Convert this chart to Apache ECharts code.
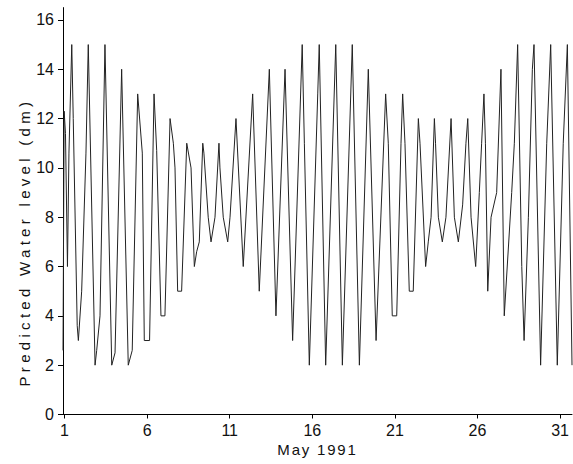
<!DOCTYPE html>
<html>
<head>
<meta charset="utf-8">
<script src="https://cdn.jsdelivr.net/npm/echarts@6/dist/echarts.min.js"></script>
<style>
  html, body { margin: 0; padding: 0; background: #fff; }
  #chart { width: 573px; height: 464px; }
</style>
</head>
<body>
<div id="chart"></div>
<script>
const days = [
  0.91, 0.98, 1.06, 1.18, 1.27, 1.44, 1.53, 1.77, 1.84, 2.04,
  2.30, 2.44, 2.85, 2.95, 3.15, 3.45, 3.86, 4.06, 4.46, 4.86,
  5.10, 5.43, 5.71, 5.83, 6.15, 6.42, 6.58, 6.84, 7.08, 7.39,
  7.59, 7.69, 7.85, 8.09, 8.40, 8.66, 8.86, 9.00, 9.16, 9.37,
  9.44, 9.70, 9.87, 10.11, 10.35, 10.41, 10.61, 10.88, 11.02, 11.38,
  11.82, 12.39, 12.79, 13.40, 13.80, 14.35, 14.81, 15.39, 15.52, 15.82,
  16.33, 16.42, 16.81, 17.42, 17.82, 18.42, 18.85, 19.39, 19.86, 20.44,
  20.60, 20.84, 21.11, 21.37, 21.47, 21.61, 21.87, 22.11, 22.42, 22.52,
  22.86, 23.02, 23.19, 23.39, 23.46, 23.63, 23.87, 24.09, 24.40, 24.60,
  24.84, 25.10, 25.30, 25.41, 25.61, 25.89, 26.11, 26.25, 26.39, 26.48,
  26.62, 26.82, 27.16, 27.42, 27.62, 28.07, 28.23, 28.43, 28.68, 28.82,
  29.08, 29.32, 29.42, 29.82, 30.19, 30.43, 30.83, 31.19, 31.44, 31.72
]
const level = [
  2.6, 12.3, 11.4, 6, 10.6, 15, 12, 3.6, 3, 5,
  10.6, 15, 2, 2.6, 4, 15, 2, 2.5, 14, 2,
  2.6, 13, 10.6, 3, 3, 13, 10.7, 4, 4, 12,
  11, 10, 5, 5, 11, 10, 6, 6.6, 7, 11,
  10.6, 8, 7, 8, 11, 10, 8, 7, 8, 12,
  6, 13, 5, 14, 4, 14, 3, 15, 11, 2,
  13, 15, 2, 15, 2, 15, 2, 14, 3, 13,
  11, 4, 4, 11, 13, 11, 5, 5, 12, 11,
  6, 7, 8, 12, 11, 8, 7, 8, 12, 8,
  7, 8.5, 11, 12, 8, 6, 9, 11, 13, 11,
  5, 8, 9, 14, 4, 9, 11, 15, 6, 3,
  8, 14, 15, 2, 11, 15, 2, 11, 15, 2
]
const xTicks = [1, 6, 11, 16, 21, 26, 31]
const yTicks = [0, 2, 4, 6, 8, 10, 12, 14, 16]

const yName = 'Predicted Water level (dm)'
const xName = 'May 1991'
const font = 'Liberation Sans'

const chart = echarts.init(document.getElementById('chart'), null, { renderer: 'svg' })

const axisCommon = {
  type: 'value',
  splitLine: { show: false },
  axisLine: { show: true, lineStyle: { color: '#000', width: 1 } },
  nameLocation: 'middle',
  nameMoveOverlap: false,
  nameTextStyle: { color: '#111', fontSize: 15, fontFamily: font },
}

chart.setOption({
  animation: false,
  backgroundColor: '#fff',
  grid: { left: 63, right: 1, top: 7.6, bottom: 49.5 },
  xAxis: {
    ...axisCommon,
    min: 0.91,
    max: 31.72,
    name: xName,
    nameGap: 27,
    axisTick: { customValues: xTicks, length: 4, lineStyle: { color: '#000' } },
    axisLabel: { customValues: xTicks, margin: 8, color: '#111', fontSize: 16, fontFamily: font },
  },
  yAxis: {
    ...axisCommon,
    min: 0,
    max: 16.5,
    name: yName,
    nameGap: 31,
    nameTextStyle: { ...axisCommon.nameTextStyle, padding: [0, 62, 0, 0] },
    axisTick: { customValues: yTicks, length: 5, lineStyle: { color: '#000' } },
    axisLabel: { customValues: yTicks, margin: 9, color: '#111', fontSize: 16, fontFamily: font },
  },
  series: [{
    type: 'line',
    data: days.map((d, i) => [d, level[i]]),
    showSymbol: false,
    lineStyle: { color: '#222', width: 1 },
  }]
})

// the original plot software spaces its letters out
const spaceOut = () => {
  document.querySelectorAll('#chart text').forEach(t => {
    const s = t.textContent.trim()
    if (s === yName) t.setAttribute('letter-spacing', '4.3')
    if (s === xName) t.setAttribute('letter-spacing', '1.8')
  })
}
chart.getZr().refreshImmediately()
spaceOut()
chart.on('finished', spaceOut)
</script>
</body>
</html>
